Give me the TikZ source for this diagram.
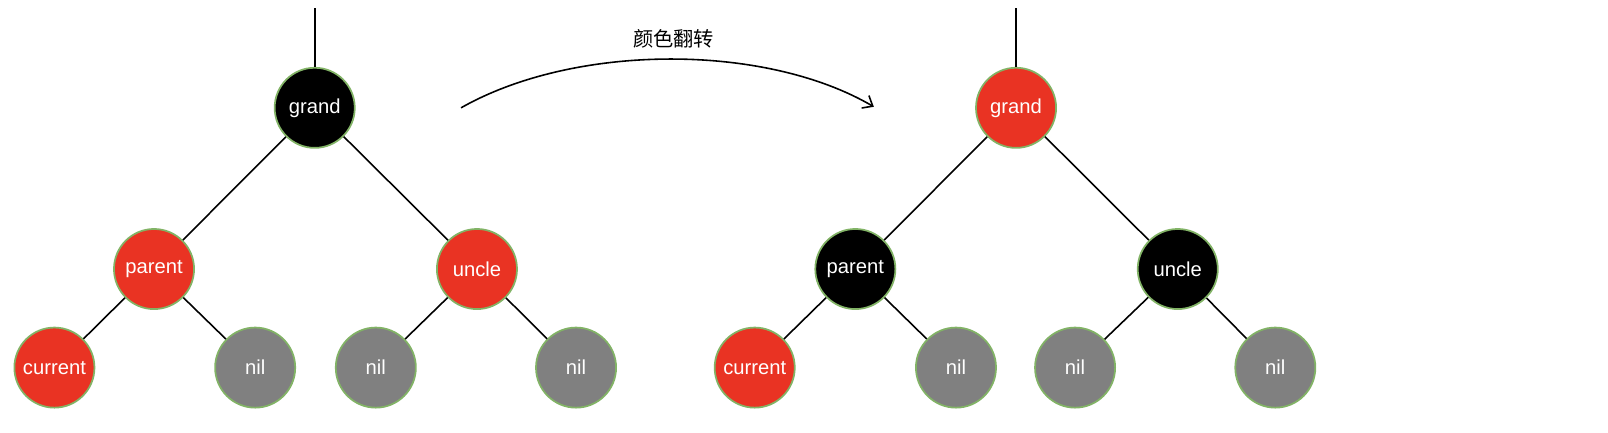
\documentclass[tikz,border=0pt]{standalone}
\usepackage{fontspec}
\setmainfont{Liberation Sans}
\newfontfamily\cjk{Noto Sans CJK SC}
\usetikzlibrary{arrows.meta}
\definecolor{rbred}{HTML}{E93323}
\definecolor{rbgrey}{HTML}{808080}
\definecolor{rbrim}{HTML}{82B366}
\tikzset{
	rbnode/.style={circle, minimum size=78*0.025cm, inner sep=0pt, draw=rbrim, line width=1.2pt, text=white, font=\fontsize{14}{16}\selectfont},
	rednode/.style={rbnode, fill=rbred},
	blacknode/.style={rbnode, fill=black},
	nilnode/.style={rbnode, fill=rbgrey},
	link/.style={line width=1.1pt}
}

\begin{document}
\begin{tikzpicture}[x=0.025cm, y=-0.025cm]
		%%%%% START %%%%%
		\useasboundingbox (0, 0) rectangle (1566, 421);
		
		% before
		\coordinate (ltop) at (306.5, 8);
		\node[blacknode] (lgrand) at (306.5, 105) {grand};
		\node[rednode] (lparent) at (150, 262) {parent};
		\node[rednode] (luncle) at (464.5, 262) {uncle};
		\node[rednode] (lcurrent) at (53, 358) {current};
		\node[nilnode] (lnila) at (248.5, 358) {nil};
		\node[nilnode] (lnilb) at (366, 358) {nil};
		\node[nilnode] (lnilc) at (561, 358) {nil};
		
		\draw[link] (ltop) -- (lgrand);
		\draw[link] (lgrand) -- (lparent);
		\draw[link] (lgrand) -- (luncle);
		\draw[link] (lparent) -- (lcurrent);
		\draw[link] (lparent) -- (lnila);
		\draw[link] (luncle) -- (lnilb);
		\draw[link] (luncle) -- (lnilc);
		
		% flip
		\coordinate (astart) at (449, 105);
		\coordinate (aend) at (851, 104);
		\draw[link, -{Straight Barb[length=6pt, width=10pt]}] (astart) .. controls (560, 42) and (745, 42) .. (aend);
		\node[font=\cjk\fontsize{14}{16}\selectfont] (flip) at (656, 38) {颜色翻转};
		
		% after
		\coordinate (rtop) at (989.5, 8);
		\node[rednode] (rgrand) at (989.5, 105) {grand};
		\node[blacknode] (rparent) at (833, 262) {parent};
		\node[blacknode] (runcle) at (1147, 262) {uncle};
		\node[rednode] (rcurrent) at (735, 358) {current};
		\node[nilnode] (rnila) at (931, 358) {nil};
		\node[nilnode] (rnilb) at (1047, 358) {nil};
		\node[nilnode] (rnilc) at (1242, 358) {nil};
		
		\draw[link] (rtop) -- (rgrand);
		\draw[link] (rgrand) -- (rparent);
		\draw[link] (rgrand) -- (runcle);
		\draw[link] (rparent) -- (rcurrent);
		\draw[link] (rparent) -- (rnila);
		\draw[link] (runcle) -- (rnilb);
		\draw[link] (runcle) -- (rnilc);
		%%%%% END %%%%%
\end{tikzpicture}
\end{document}
